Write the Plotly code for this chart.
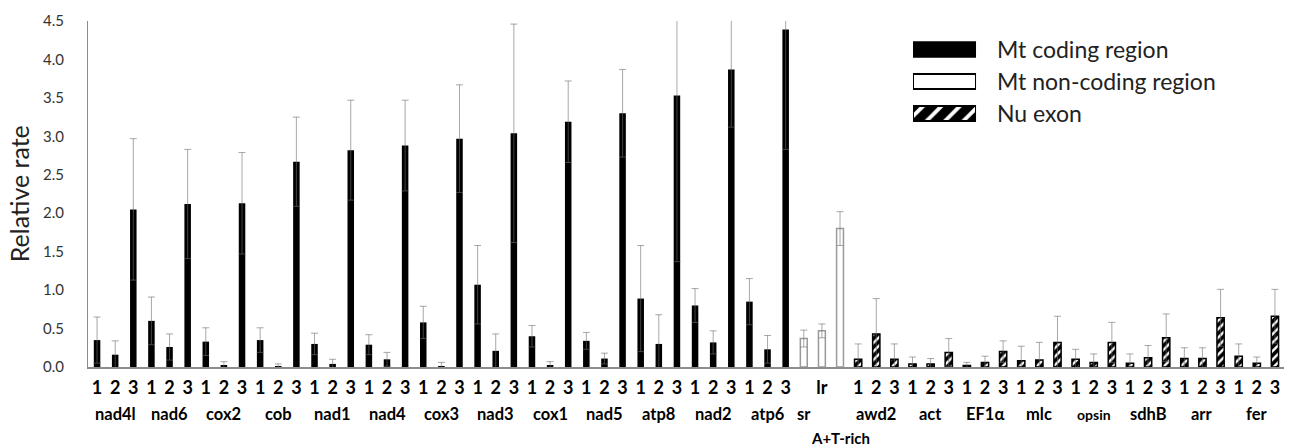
import plotly.graph_objects as go

# ---------------- data ----------------
coding_genes = ["nad4l", "nad6", "cox2", "cob", "nad1", "nad4", "cox3",
                "nad3", "cox1", "nad5", "atp8", "nad2", "atp6"]
codon_pos = ["1", "2", "3"]
coding_vals = [0.35, 0.16, 2.05,  0.60, 0.26, 2.12,  0.33, 0.02, 2.13,
               0.35, 0.01, 2.67,  0.30, 0.04, 2.82,  0.29, 0.10, 2.88,
               0.58, 0.01, 2.97,  1.07, 0.21, 3.04,  0.40, 0.02, 3.19,
               0.34, 0.11, 3.30,  0.89, 0.30, 3.53,  0.80, 0.32, 3.87,
               0.85, 0.23, 4.39]
coding_err = [0.30, 0.18, 0.92,  0.31, 0.17, 0.71,  0.18, 0.05, 0.66,
              0.16, 0.03, 0.58,  0.14, 0.06, 0.65,  0.13, 0.09, 0.59,
              0.21, 0.05, 0.70,  0.51, 0.22, 1.42,  0.14, 0.05, 0.53,
              0.11, 0.07, 0.57,  0.69, 0.38, 2.16,  0.22, 0.15, 0.75,
              0.30, 0.18, 1.56]

noncoding_names = ["sr", "lr", "A+T-rich"]
noncoding_vals = [0.37, 0.47, 1.80]
noncoding_err = [0.11, 0.09, 0.22]

nu_genes = ["awd2", "act", "EF1α", "mlc", "opsin", "sdhB", "arr", "fer"]
nu_vals = [0.10, 0.43, 0.10,  0.04, 0.04, 0.19,  0.02, 0.06, 0.20,
           0.08, 0.09, 0.32,  0.10, 0.06, 0.32,  0.05, 0.12, 0.38,
           0.11, 0.11, 0.64,  0.14, 0.05, 0.66]
nu_err = [0.20, 0.46, 0.20,  0.09, 0.07, 0.18,  0.04, 0.08, 0.14,
          0.19, 0.23, 0.34,  0.13, 0.11, 0.26,  0.12, 0.16, 0.31,
          0.14, 0.14, 0.37,  0.16, 0.08, 0.35]

legend_labels = ["Mt coding region", "Mt non-coding region", "Nu exon"]
y_ticks = [0.0, 0.5, 1.0, 1.5, 2.0, 2.5, 3.0, 3.5, 4.0, 4.5]

# ---------------- positions ----------------
n_cod = len(coding_vals)
x_cod = list(range(n_cod))
x_non = list(range(n_cod, n_cod + len(noncoding_vals)))
x_nu = list(range(n_cod + len(noncoding_vals), n_cod + len(noncoding_vals) + len(nu_vals)))

FONT = "Lato"
ERR_COLOR = "rgba(110,110,110,0.6)"

# styles
style_cod = dict(color="black", line=dict(color="black", width=0))
style_non = dict(color="white", line=dict(color="#9a9a9a", width=1.5))
style_nu = dict(color="white", line=dict(color="black", width=1.5),
                pattern=dict(shape="/", fgcolor="black", bgcolor="white", fgopacity=1,
                             fillmode="replace", size=6, solidity=0.6))

fig = go.Figure()
fig.add_trace(go.Bar(
    x=x_cod, y=coding_vals, width=0.36, name=legend_labels[0], showlegend=False,
    marker=style_cod,
    error_y=dict(type="data", array=coding_err, color=ERR_COLOR, thickness=1, width=3.5),
))
fig.add_trace(go.Bar(
    x=x_non, y=noncoding_vals, width=0.38, name=legend_labels[1], showlegend=False,
    marker=style_non,
    error_y=dict(type="data", array=noncoding_err, color=ERR_COLOR, thickness=1, width=3.5),
))
fig.add_trace(go.Bar(
    x=x_nu, y=nu_vals, width=0.4, name=legend_labels[2], showlegend=False,
    marker=style_nu,
    error_y=dict(type="data", array=nu_err, color=ERR_COLOR, thickness=1, width=3.5),
))

# legend swatches drawn on a small auxiliary axis pair
legend_styles = [
    dict(color="black", line=dict(color="black", width=1.5)),
    dict(color="white", line=dict(color="black", width=2)),
    dict(color="white", line=dict(color="black", width=2),
         pattern=dict(shape="/", fgcolor="black", bgcolor="white", fgopacity=1,
                      fillmode="replace", size=13, solidity=0.7)),
]
for lab, st in zip(legend_labels, legend_styles):
    fig.add_trace(go.Bar(
        x=[1], y=[lab], orientation="h", width=0.47, xaxis="x2", yaxis="y2",
        marker=st, showlegend=False, hoverinfo="skip",
    ))

# tick labels (codon positions, plus "lr")
tickvals = x_cod + x_non + x_nu
ticktext = (codon_pos * len(coding_genes)) + ["", noncoding_names[1], ""] + (codon_pos * len(nu_genes))

annotations = []
for i, g in enumerate(coding_genes):
    annotations.append(dict(x=x_cod[3 * i + 1], y=0, xref="x", yref="paper", text=g,
                            showarrow=False, yanchor="middle", yshift=-47,
                            font=dict(family=FONT, size=16.5, color="black", weight="bold")))
for i, g in enumerate(nu_genes):
    annotations.append(dict(x=x_nu[3 * i + 1], y=0, xref="x", yref="paper", text=g,
                            showarrow=False, yanchor="middle", yshift=-47,
                            font=dict(family=FONT, size=14 if g == "opsin" else 16.5,
                                      color="black", weight="bold")))
annotations.append(dict(x=x_non[0], y=0, xref="x", yref="paper", text=noncoding_names[0],
                        showarrow=False, yanchor="middle", yshift=-47,
                        font=dict(family=FONT, size=16.5, color="black", weight="bold")))
annotations.append(dict(x=x_non[2], y=0, xref="x", yref="paper", text=noncoding_names[2],
                        showarrow=False, yanchor="middle", yshift=-71,
                        font=dict(family=FONT, size=15, color="black", weight="bold")))
annotations.append(dict(x=-0.0575, y=0.5, xref="paper", yref="paper", text="Relative rate",
                        showarrow=False, textangle=-90, xanchor="center", yanchor="middle",
                        font=dict(family=FONT, size=25, color="#222222")))

fig.update_layout(
    width=1298, height=448,
    margin=dict(l=88, r=14, t=21, b=81),
    paper_bgcolor="white", plot_bgcolor="white",
    barmode="overlay",
    showlegend=False,
    annotations=annotations,
    font=dict(family=FONT),
    xaxis=dict(
        range=[-0.5, x_nu[-1] + 0.5],
        tickmode="array", tickvals=tickvals, ticktext=ticktext,
        tickfont=dict(family=FONT, size=18, color="black", weight="bold"),
        ticks="", ticklabelstandoff=4,
        showline=True, linecolor="#8c8c8c", linewidth=1.5,
        showgrid=False, zeroline=False,
    ),
    yaxis=dict(
        range=[0, 4.5], tickmode="array", tickvals=y_ticks,
        tickformat=".1f",
        tickfont=dict(family=FONT, size=15, color="#333333"),
        ticks="", ticklabelstandoff=20,
        showline=True, linecolor="#8c8c8c", linewidth=1,
        showgrid=False, zeroline=False,
    ),
    xaxis2=dict(domain=[0.6898, 0.7425], range=[0, 1], visible=False, anchor="y2"),
    yaxis2=dict(domain=[0.6864, 0.9639], anchor="x2", side="right",
                type="category", categoryarray=legend_labels, autorange="reversed",
                showline=False, showgrid=False, zeroline=False, ticks="",
                ticklabelstandoff=20,
                tickfont=dict(family=FONT, size=23, color="#222222")),
)

fig.write_html("out.html")
